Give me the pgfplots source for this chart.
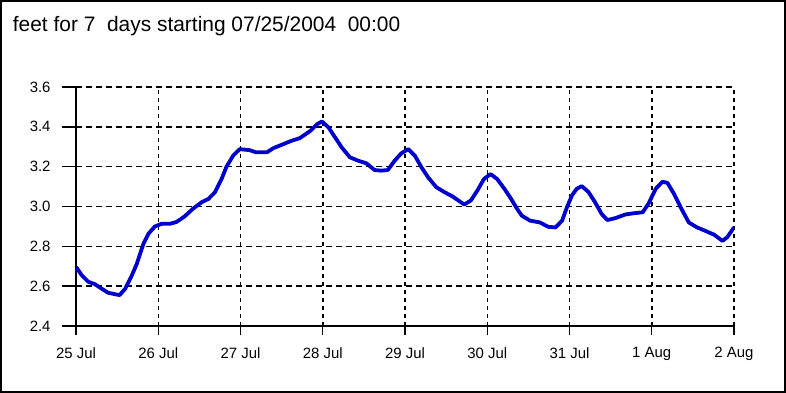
\documentclass[border=0pt]{standalone}
\usepackage{fontspec}
\setmainfont{Liberation Sans}
\usepackage{pgfplots}
\pgfplotsset{compat=1.18}
\definecolor{tideblue}{HTML}{0000CC}
\begin{document}
\begin{tikzpicture}
\useasboundingbox (0bp,0bp) rectangle (786bp,393bp);
\draw[line width=2bp] (1bp,1bp) rectangle (785bp,392bp);
\node[anchor=base west, inner sep=0pt, font=\fontsize{21}{24}\selectfont] at (12.7bp,361.3bp) {feet for 7\ \ days starting 07/25/2004\ \ 00:00};
\begin{axis}[
  at={(76bp,67bp)}, anchor=south west,
  scale only axis, width=658bp, height=239bp,
  xmin=0, xmax=8, ymin=2.4, ymax=3.6,
  axis x line*=bottom, axis y line*=left,
  axis line style={line width=1.6bp, -},
  xtick={0,1,2,3,4,5,6,7,8},
  xticklabels={25 Jul,26 Jul,27 Jul,28 Jul,29 Jul,30 Jul,31 Jul,1 Aug,2 Aug},
  ytick={2.4,2.6,2.8,3.0,3.2,3.4,3.6},
  yticklabels={2.4,2.6,2.8,3.0,3.2,3.4,3.6},
  tick align=outside,
  tick style={black, line width=1.4bp},
  xtick style={/pgfplots/major tick length=9bp},
  ytick style={/pgfplots/major tick length=14bp},
  grid=major,
  x grid style={black, line width=1.5bp, dash pattern=on 4bp off 4bp},
  y grid style={black, line width=1.5bp, dash pattern=on 6bp off 4bp},
  ticklabel style={font=\fontsize{15}{17}\selectfont, inner sep=0pt},
  xticklabel style={yshift=-17bp},
  yticklabel style={xshift=-21bp},
]
\addplot[tideblue, line width=3.8bp, line join=round] coordinates {
(0.00,2.697) (0.07,2.655) (0.15,2.622) (0.23,2.610) (0.31,2.588) (0.39,2.567)
(0.47,2.560) (0.53,2.555) (0.60,2.588) (0.68,2.655) (0.74,2.713) (0.78,2.763)
(0.82,2.813) (0.88,2.863) (0.96,2.900) (1.04,2.913) (1.14,2.913) (1.22,2.922)
(1.32,2.950) (1.42,2.988) (1.53,3.022) (1.61,3.038) (1.69,3.072) (1.77,3.138)
(1.83,3.200) (1.91,3.255) (1.99,3.288) (2.11,3.283) (2.19,3.272) (2.32,3.272)
(2.40,3.293) (2.52,3.313) (2.62,3.330) (2.72,3.343) (2.85,3.380) (2.93,3.413)
(2.99,3.427) (3.07,3.397) (3.15,3.347) (3.23,3.297) (3.33,3.247) (3.43,3.230)
(3.53,3.217) (3.63,3.183) (3.71,3.180) (3.79,3.183) (3.875,3.230) (3.955,3.267)
(4.04,3.288) (4.12,3.255) (4.20,3.197) (4.28,3.147) (4.38,3.097) (4.48,3.072)
(4.58,3.050) (4.66,3.027) (4.72,3.010) (4.80,3.030) (4.88,3.080) (4.96,3.138)
(5.04,3.163) (5.12,3.138) (5.21,3.088) (5.29,3.038) (5.36,2.990) (5.42,2.954)
(5.52,2.929) (5.64,2.920) (5.74,2.898) (5.83,2.895) (5.91,2.929) (5.97,2.997)
(6.03,3.056) (6.09,3.090) (6.15,3.102) (6.23,3.073) (6.31,3.022) (6.39,2.963)
(6.46,2.932) (6.56,2.942) (6.68,2.960) (6.78,2.966) (6.89,2.971) (6.96,3.014)
(7.05,3.090) (7.13,3.124) (7.19,3.119) (7.27,3.064) (7.35,2.997) (7.45,2.920)
(7.55,2.895) (7.65,2.878) (7.76,2.858) (7.86,2.827) (7.92,2.847) (8.00,2.895)
};
\end{axis}
\end{tikzpicture}
\end{document}
